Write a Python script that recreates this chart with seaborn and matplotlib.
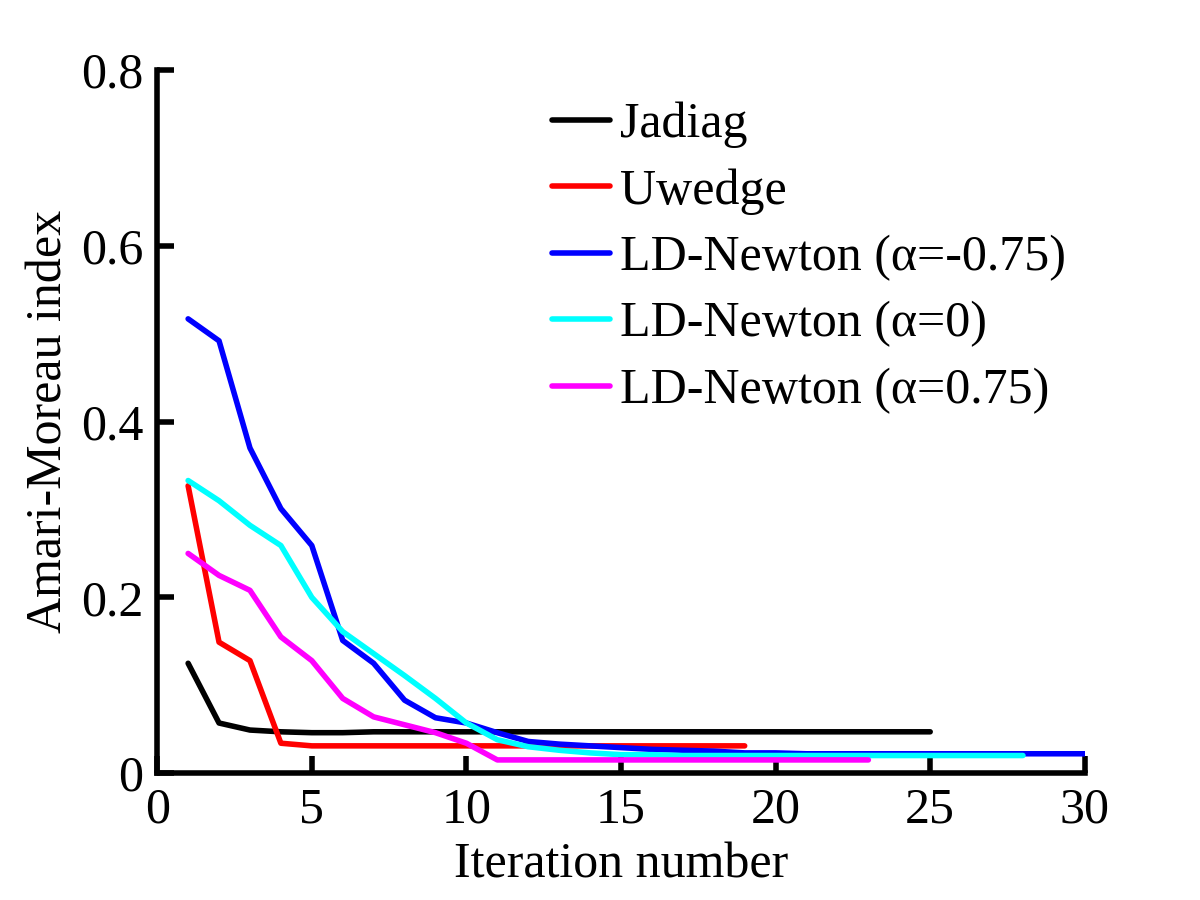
import matplotlib
matplotlib.use("Agg")
import matplotlib.pyplot as plt
import numpy as np
import pandas as pd
import seaborn as sns

# values
jadiag_iter = list(range(1, 26))
jadiag = [0.125, 0.057, 0.049, 0.047, 0.046, 0.046, 0.047, 0.047, 0.047, 0.047,
          0.047, 0.047, 0.047, 0.047, 0.047, 0.047, 0.047, 0.047, 0.047, 0.047,
          0.047, 0.047, 0.047, 0.047, 0.047]

uwedge_iter = list(range(1, 20))
uwedge = [0.327, 0.149, 0.128, 0.034, 0.031, 0.031, 0.031, 0.031, 0.031, 0.031,
          0.031, 0.031, 0.031, 0.031, 0.031, 0.031, 0.031, 0.031, 0.031]

ldn_m075_iter = list(range(1, 31))
ldn_m075 = [0.517, 0.492, 0.370, 0.301, 0.259, 0.151, 0.125, 0.083, 0.063, 0.057,
            0.046, 0.036, 0.033, 0.031, 0.029, 0.027, 0.026, 0.025, 0.023, 0.023,
            0.022, 0.022, 0.022, 0.022, 0.022, 0.022, 0.022, 0.022, 0.022, 0.022]

ldn_0_iter = list(range(1, 29))
ldn_0 = [0.333, 0.310, 0.282, 0.259, 0.200, 0.161, 0.136, 0.111, 0.085, 0.057,
         0.038, 0.030, 0.026, 0.023, 0.021, 0.021, 0.020, 0.020, 0.020, 0.020,
         0.020, 0.020, 0.020, 0.020, 0.020, 0.020, 0.020, 0.020]

ldn_p075_iter = list(range(1, 24))
ldn_p075 = [0.250, 0.225, 0.208, 0.155, 0.128, 0.085, 0.064, 0.055, 0.046, 0.034,
            0.015, 0.015, 0.015, 0.015, 0.015, 0.015, 0.015, 0.015, 0.015, 0.015,
            0.015, 0.015, 0.015]

labels = ["Jadiag", "Uwedge", "LD-Newton (\u03b1=-0.75)",
          "LD-Newton (\u03b1=0)", "LD-Newton (\u03b1=0.75)"]
colors = ["black", "red", "blue", "cyan", "magenta"]

series = [
    (labels[0], jadiag_iter, jadiag),
    (labels[1], uwedge_iter, uwedge),
    (labels[2], ldn_m075_iter, ldn_m075),
    (labels[3], ldn_0_iter, ldn_0),
    (labels[4], ldn_p075_iter, ldn_p075),
]
df = pd.concat(
    [pd.DataFrame({"iteration": it, "index": vals, "method": name})
     for name, it, vals in series],
    ignore_index=True,
)

sns.set_style("ticks")
plt.rcParams["font.family"] = ["Liberation Serif", "DejaVu Serif"]
plt.rcParams["text.color"] = "black"
plt.rcParams["axes.labelcolor"] = "black"
plt.rcParams["xtick.color"] = "black"
plt.rcParams["ytick.color"] = "black"
plt.rcParams["axes.edgecolor"] = "black"

fs = 36

fig = plt.figure(figsize=(12, 9), dpi=100)
ax = fig.add_axes([0.131, 0.141, 0.773, 0.781])

sns.lineplot(
    data=df, x="iteration", y="index", hue="method",
    hue_order=labels, palette=dict(zip(labels, colors)),
    linewidth=4, ax=ax, errorbar=None, sort=False,
)

ax.set_xlim(0, 30)
ax.set_ylim(0, 0.8)
ax.set_xticks([0, 5, 10, 15, 20, 25, 30])
ax.set_yticks([0, 0.2, 0.4, 0.6, 0.8])
ax.set_yticklabels(["0", "0.2", "0.4", "0.6", "0.8"])
ax.set_xlabel("Iteration number", fontsize=fs, labelpad=6)
ax.set_ylabel("Amari-Moreau index", fontsize=fs, labelpad=6)
ax.tick_params(direction="in", length=12, width=4, labelsize=fs, pad=10,
               colors="black")
sns.despine(ax=ax)
for side in ["left", "bottom"]:
    ax.spines[side].set_linewidth(4)
    ax.spines[side].set_color("black")

handles, lbls = ax.get_legend_handles_labels()
ax.legend(handles, lbls, loc="upper right", bbox_to_anchor=(1.012, 0.998),
          frameon=False, fontsize=fs, handlelength=1.15, handletextpad=0.2,
          labelspacing=0.4, borderaxespad=0.2)

fig.savefig("out.png", dpi=100)
